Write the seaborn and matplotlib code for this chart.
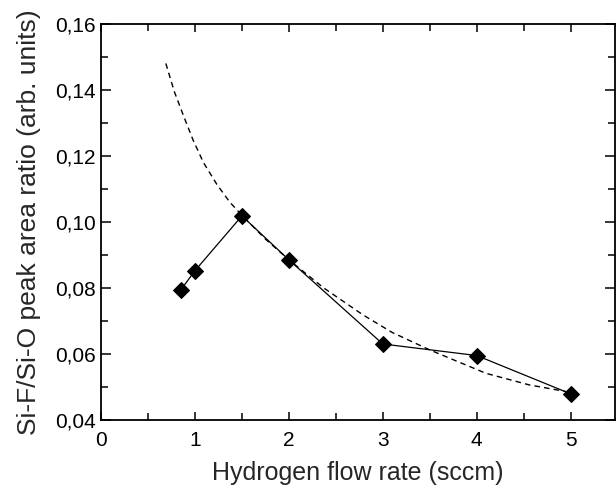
import numpy as np
import pandas as pd
import seaborn as sns
import matplotlib.pyplot as plt
from matplotlib.ticker import MultipleLocator, FuncFormatter

# measured points
flow_rate = [0.85, 1.0, 1.5, 2.0, 3.0, 4.0, 5.0]
peak_ratio = [0.0794, 0.0852, 0.1018, 0.0885, 0.0630, 0.0595, 0.0479]

# dashed guide curve
fit_x = [0.69, 0.78, 0.88, 0.98, 1.09, 1.23, 1.37, 1.5, 1.75, 2.0, 2.37, 2.79, 3.1, 3.5, 4.1, 4.56, 4.95]
fit_y = [0.148, 0.1395, 0.132, 0.1248, 0.118, 0.1115, 0.106, 0.102, 0.0948, 0.0885, 0.0800, 0.0718, 0.0665, 0.0612, 0.0541, 0.0506, 0.0486]

sns.set_theme(style="ticks")
plt.rcParams['font.family'] = ['Liberation Sans', 'DejaVu Sans']

fig = plt.figure(figsize=(6.16, 4.86), dpi=100)
ax = fig.add_axes([0.164, 0.136, 0.834, 0.815])

df_meas = pd.DataFrame({'x': flow_rate, 'y': peak_ratio})
df_fit = pd.DataFrame({'x': fit_x, 'y': fit_y})

sns.lineplot(data=df_fit, x='x', y='y', ax=ax, color='black', linewidth=1.0,
             linestyle=(0, (4, 3)))
sns.lineplot(data=df_meas, x='x', y='y', ax=ax, color='black', linewidth=0.9,
             marker='D', markersize=8, markeredgecolor='black')

ax.set_xlim(0, 5.47)
ax.set_ylim(0.04, 0.16)
ax.xaxis.set_major_locator(MultipleLocator(1))
ax.xaxis.set_minor_locator(MultipleLocator(0.5))
ax.yaxis.set_major_locator(MultipleLocator(0.02))
ax.yaxis.set_minor_locator(MultipleLocator(0.01))
ax.xaxis.set_major_formatter(FuncFormatter(lambda v, p: f'{v:.0f}'))
ax.yaxis.set_major_formatter(FuncFormatter(lambda v, p: f'{v:.2f}'.replace('.', ',')))

ax.tick_params(which='both', direction='in', top=True, right=True, colors='black',
               labelsize=15, width=1.1)
ax.tick_params(axis='x', which='major', length=6, pad=8)
ax.tick_params(axis='y', which='major', length=7, pad=4)
ax.tick_params(which='minor', length=5)
for s in ax.spines.values():
    s.set_linewidth(1.3)
    s.set_color('black')

ax.set_xlabel('Hydrogen flow rate (sccm)', fontsize=18, labelpad=8)
ax.set_ylabel('Si-F/Si-O peak area ratio (arb. units)', fontsize=19, labelpad=10)

fig.savefig('out.png', dpi=100)
